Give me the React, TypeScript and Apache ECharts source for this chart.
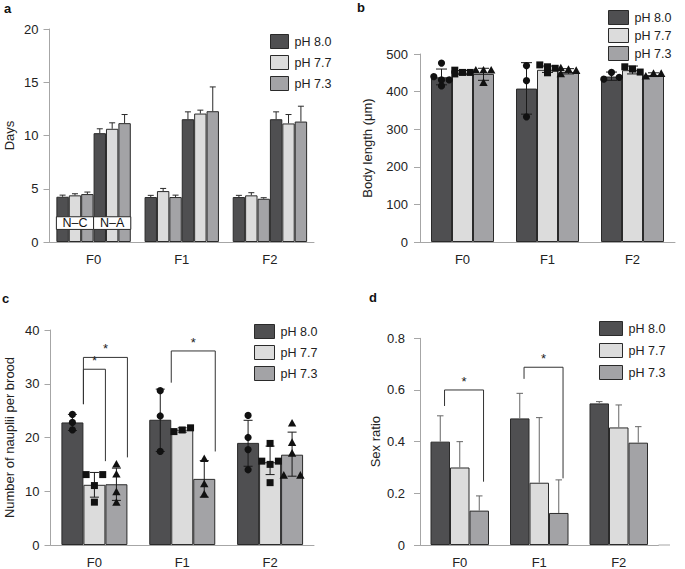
import React, { useEffect, useRef } from 'react';
import * as echarts from 'echarts';

// ---------- data ----------
const categories = ['F0', 'F1', 'F2'];
const phNames = ['pH 8.0', 'pH 7.7', 'pH 7.3'];
const devGroupLabels = ['N–C', 'N–A'];
const devGroupBox = [1.18, 2.37];

// panel a: development time (days), mean and upper error
const devNC80 = [4.25, 4.22, 4.22];
const devNC77 = [4.38, 4.78, 4.38];
const devNC73 = [4.5, 4.22, 4.06];
const devNA80 = [10.22, 11.53, 11.53];
const devNA77 = [10.63, 12.06, 11.13];
const devNA73 = [11.16, 12.28, 11.31];
const devNC80Hi = [4.4, 4.38, 4.38];
const devNC77Hi = [4.53, 5.03, 4.63];
const devNC73Hi = [4.69, 4.4, 4.16];
const devNA80Hi = [10.63, 12.22, 12.22];
const devNA77Hi = [11.19, 12.38, 11.97];
const devNA73Hi = [11.97, 14.56, 12.75];

// panel b: body length (µm)
const len80 = [438, 408, 440];
const len77 = [450, 458, 457];
const len73 = [447, 452, 444];
const len80Lo = [418, 340, 430];
const len80Hi = [460, 477, 452];
const len77Lo = [445, 451, 447];
const len77Hi = [456, 468, 468];
const len73Lo = [430, 447, 440];
const len73Hi = [462, 461, 450];
const len80Pts = [[476, 440, 431, 431, 415], [469, 429, 333], [451, 433, 438]];
const len77Pts = [[457, 451, 451, 447], [471, 466, 462, 450], [466, 460, 452]];
const len73Pts = [[456, 456, 456, 423], [462, 458, 455, 446], [440, 447, 447]];

// panel c: nauplii per brood
const nau80 = [22.8, 23.3, 19.0];
const nau77 = [11.2, 21.45, 15.4];
const nau73 = [11.3, 12.3, 16.8];
const nau80Lo = [21.3, 17.4, 14.65];
const nau80Hi = [24.3, 29.0, 23.2];
const nau77Lo = [8.9, 21.0, 13.1];
const nau77Hi = [13.5, 21.8, 18.4];
const nau73Lo = [8.3, 8.9, 12.8];
const nau73Hi = [14.3, 15.7, 21.0];
const nau80Pts = [[24.3, 22.8, 21.4], [28.7, 24.0, 17.4], [24.1, 20.0, 17.75, 14.0]];
const nau77Pts = [[11.06, 13.1, 13.1, 7.97], [21.1, 21.4, 21.8], [15.6, 15.0, 15.6, 18.9, 11.6]];
const nau73Pts = [[14.96, 13.1, 9.8, 7.85], [16.0, 11.3, 9.4], [22.6, 19.0, 17.0, 12.9, 12.9]];
// [category, fromBar, toBar, top, fromBottom, toBottom]
const nauBrackets = [
  [0, 0, 1, 32.7, 26.2, 15.6],
  [0, 0, 2, 34.9, 26.2, 16.3],
  [1, 0, 2, 36.1, 30.2, 17.4],
];

// panel d: sex ratio
const sex80 = [0.4, 0.49, 0.548];
const sex77 = [0.3, 0.241, 0.455];
const sex73 = [0.133, 0.124, 0.396];
const sex80Hi = [0.5, 0.587, 0.555];
const sex77Hi = [0.4, 0.493, 0.542];
const sex73Hi = [0.19, 0.252, 0.458];
const sexBrackets = [
  [0, 0, 2, 0.6, 0.538, 0.245],
  [1, 0, 2, 0.688, 0.643, 0.258],
];

// ---------- styles ----------
const FONT = 'Liberation Sans, Arial, Helvetica, sans-serif';
const COLORS = ['#4f4f51', '#dcdcdc', '#a3a3a6'];
const BORDER = '#2a2a2a';
const AXIS = '#a6a6a6';
const TEXT = '#222';

function barOffset(k: number, n: number, bw: number) {
  return (k - (n - 1) / 2) * bw;
}

function errorRender(n: number, bw: number, capW: number, color: string, twoSided: boolean) {
  return (params: any, api: any) => {
    const cat = api.value(0);
    const k = api.value(1);
    const cx = api.coord([cat, 0])[0] + barOffset(k, n, bw);
    const yLo = api.coord([cat, api.value(2)])[1];
    const yHi = api.coord([cat, api.value(3)])[1];
    const st = { stroke: color, lineWidth: 1 };
    const children: any[] = [
      { type: 'line', shape: { x1: cx, y1: yLo, x2: cx, y2: yHi }, style: st },
      { type: 'line', shape: { x1: cx - capW / 2, y1: yHi, x2: cx + capW / 2, y2: yHi }, style: st },
    ];
    if (twoSided) {
      children.push({ type: 'line', shape: { x1: cx - capW / 2, y1: yLo, x2: cx + capW / 2, y2: yLo }, style: st });
    }
    return { type: 'group', children };
  };
}

function pointRender(n: number, bw: number, spread: number) {
  return (params: any, api: any) => {
    const cat = api.value(0);
    const k = api.value(1);
    const slot = api.value(3);
    const x = api.coord([cat, 0])[0] + barOffset(k, n, bw) + slot * spread;
    const y = api.coord([cat, api.value(2)])[1];
    const st = { fill: '#111' };
    if (k === 0) return { type: 'circle', shape: { cx: x, cy: y, r: 3.6 }, style: st };
    if (k === 1) return { type: 'rect', shape: { x: x - 3.5, y: y - 3.5, width: 7, height: 7 }, style: st };
    return { type: 'polygon', shape: { points: [[x, y - 4.6], [x - 4.2, y + 3], [x + 4.2, y + 3]] }, style: st };
  };
}

function bracketRender(n: number, bw: number, frac: number) {
  return (params: any, api: any) => {
    const cat = api.value(0);
    const base = api.coord([cat, 0])[0];
    const x1 = base + barOffset(api.value(1), n, bw) + frac * bw;
    const x2 = base + barOffset(api.value(2), n, bw) + frac * bw;
    const yTop = api.coord([cat, api.value(3)])[1];
    const yA = api.coord([cat, api.value(4)])[1];
    const yB = api.coord([cat, api.value(5)])[1];
    return {
      type: 'group',
      children: [
        { type: 'polyline', shape: { points: [[x1, yA], [x1, yTop], [x2, yTop], [x2, yB]] }, style: { stroke: '#333', lineWidth: 1, fill: 'none' } },
        { type: 'text', x: (x1 + x2) / 2, y: yTop - 2, style: { text: '*', fontSize: 13, fontFamily: FONT, fill: '#222', align: 'center', verticalAlign: 'bottom' } },
      ],
    };
  };
}

// slot assignment: points whose values lie closer than tol are spread sideways
function slots(values: number[], tol: number): number[] {
  const idx = values.map((_, i) => i).sort((a, b) => values[b] - values[a]);
  const res = new Array(values.length).fill(0);
  let cluster: number[] = [];
  const flush = () => {
    const c = cluster.slice().sort((a, b) => a - b);
    if (c.length === 2) { res[c[0]] = -1; res[c[1]] = 1; }
    else if (c.length >= 3) c.forEach((ii, j) => { res[ii] = [-1, 0, 1][j % 3]; });
    cluster = [];
  };
  idx.forEach((i) => {
    if (cluster.length && values[cluster[cluster.length - 1]] - values[i] >= tol) flush();
    cluster.push(i);
  });
  flush();
  return res;
}

function pointData(groups: number[][][], tol: number) {
  const out: number[][] = [];
  groups.forEach((perBar, k) => {
    perBar.forEach((vals, cat) => {
      const s = slots(vals, tol);
      vals.forEach((v, i) => out.push([cat, k, v, s[i]]));
    });
  });
  return out;
}

function errData(means: number[][], lows: number[][] | null, highs: number[][]) {
  const out: number[][] = [];
  highs.forEach((hi, k) => {
    hi.forEach((h, cat) => out.push([cat, k, lows ? lows[k][cat] : means[k][cat], h]));
  });
  return out;
}

function axes(grid: number, max: number, interval: number, name: string, nameGap: number, labelMargin: number) {
  const x = {
    gridIndex: grid,
    type: 'category',
    data: categories,
    axisLine: { lineStyle: { color: AXIS, width: 1 } },
    axisTick: { alignWithLabel: true, length: 6, lineStyle: { color: AXIS } },
    axisLabel: { color: TEXT, fontSize: 13, fontFamily: FONT, margin: 11 },
  };
  const y = {
    gridIndex: grid,
    type: 'value',
    min: 0,
    max,
    interval,
    axisLine: { show: true, lineStyle: { color: AXIS, width: 1 } },
    axisTick: { show: true, length: 6, lineStyle: { color: AXIS } },
    splitLine: { show: false },
    axisLabel: { color: TEXT, fontSize: 13, fontFamily: FONT, margin: labelMargin },
    name,
    nameLocation: 'middle',
    nameGap,
    nameTextStyle: { color: TEXT, fontSize: 13, fontFamily: FONT },
  };
  return { x, y };
}

function legend(left: number, top: number, w: number, gap: number) {
  return {
    data: phNames,
    orient: 'vertical',
    left,
    top,
    itemWidth: w,
    itemHeight: 14,
    itemGap: gap,
    icon: 'rect',
    selectedMode: false,
    itemStyle: { borderColor: BORDER, borderWidth: 1 },
    textStyle: { color: TEXT, fontSize: 12.5, fontFamily: FONT, padding: [0, 0, 0, 1] },
  };
}

function barSeries(grid: number, name: string, data: number[], color: string, bw: number) {
  return {
    type: 'bar',
    name,
    xAxisIndex: grid,
    yAxisIndex: grid,
    data,
    barWidth: bw,
    barGap: '0%',
    z: 2,
    itemStyle: { color, borderColor: BORDER, borderWidth: 1 },
  };
}

function customSeries(grid: number, name: string, data: any[], renderItem: any, z: number, yDims: number[]) {
  return {
    type: 'custom',
    name,
    xAxisIndex: grid,
    yAxisIndex: grid,
    coordinateSystem: 'cartesian2d',
    data,
    renderItem,
    encode: { x: 0, y: yDims },
    z,
    silent: true,
  };
}

function buildOption() {
  const A = axes(0, 20, 5, 'Days', 34, 11);
  const B = axes(1, 500, 100, 'Body length (μm)', 46, 12);
  const C = axes(2, 40, 10, 'Number of nauplii per brood', 35, 11);
  const D = axes(3, 0.8, 0.2, 'Sex ratio', 38, 15);

  const aBW = 12.4, bBW = 21, cBW = 22, dBW = 19.5;

  const devMeans = [devNC80, devNC77, devNC73, devNA80, devNA77, devNA73];
  const devHis = [devNC80Hi, devNC77Hi, devNC73Hi, devNA80Hi, devNA77Hi, devNA73Hi];

  const series: any[] = [];
  devMeans.forEach((d, k) => series.push(barSeries(0, phNames[k % 3], d, COLORS[k % 3], aBW)));
  series.push(customSeries(0, 'errA', errData(devMeans, null, devHis), errorRender(6, aBW, 6, '#2a2a2a', false), 3, [2, 3]));
  series.push(customSeries(0, 'groupsA', devGroupLabels.map((_, g) => [0, g, devGroupBox[0], devGroupBox[1]]), (params: any, api: any) => {
    const cat = api.value(0);
    const g = api.value(1);
    const base = api.coord([cat, 0])[0];
    const left = base + (3 * g - 3) * aBW;
    const yLo = api.coord([cat, api.value(2)])[1];
    const yHi = api.coord([cat, api.value(3)])[1];
    return {
      type: 'group',
      children: [
        { type: 'rect', shape: { x: left, y: yHi, width: 3 * aBW, height: yLo - yHi }, style: { fill: '#fff', stroke: BORDER, lineWidth: 1 } },
        { type: 'text', x: left + 1.5 * aBW, y: (yLo + yHi) / 2, style: { text: devGroupLabels[params.dataIndex], fontSize: 12.5, fontFamily: FONT, fill: '#111', align: 'center', verticalAlign: 'middle' } },
      ],
    };
  }, 4, [2, 3]));

  const lenMeans = [len80, len77, len73];
  lenMeans.forEach((d, k) => series.push(barSeries(1, phNames[k], d, COLORS[k], bBW)));
  series.push(customSeries(1, 'errB', errData(lenMeans, [len80Lo, len77Lo, len73Lo], [len80Hi, len77Hi, len73Hi]), errorRender(3, bBW, 11, '#1a1a1a', true), 3, [2, 3]));
  series.push(customSeries(1, 'ptsB', pointData([len80Pts, len77Pts, len73Pts], 10), pointRender(3, bBW, 7.7), 4, [2]));

  const nauMeans = [nau80, nau77, nau73];
  nauMeans.forEach((d, k) => series.push(barSeries(2, phNames[k], d, COLORS[k], cBW)));
  series.push(customSeries(2, 'errC', errData(nauMeans, [nau80Lo, nau77Lo, nau73Lo], [nau80Hi, nau77Hi, nau73Hi]), errorRender(3, cBW, 9, '#1a1a1a', true), 3, [2, 3]));
  series.push(customSeries(2, 'ptsC', pointData([nau80Pts, nau77Pts, nau73Pts], 1.2), pointRender(3, cBW, 8.3), 4, [2]));
  series.push(customSeries(2, 'brC', nauBrackets, bracketRender(3, cBW, 0.5), 5, [3]));

  const sexMeans = [sex80, sex77, sex73];
  sexMeans.forEach((d, k) => series.push(barSeries(3, phNames[k], d, COLORS[k], dBW)));
  series.push(customSeries(3, 'errD', errData(sexMeans, null, [sex80Hi, sex77Hi, sex73Hi]), errorRender(3, dBW, 6.5, '#666', false), 3, [2, 3]));
  series.push(customSeries(3, 'brD', sexBrackets, bracketRender(3, dBW, 0.22), 5, [3]));

  const letter = (t: string, left: number, top: number) => ({
    type: 'text', left, top,
    style: { text: t, fontSize: 13, fontWeight: 'bold', fontFamily: FONT, fill: '#111' },
  });

  return {
    animation: false,
    backgroundColor: '#fff',
    textStyle: { fontFamily: FONT },
    grid: [
      { left: 49.5, top: 29, width: 264.5, height: 213 },
      { left: 420, top: 54, width: 255, height: 188 },
      { left: 50.5, top: 330, width: 263.5, height: 215.7 },
      { left: 420, top: 338.3, width: 238.5, height: 206.7 },
    ],
    xAxis: [A.x, B.x, C.x, D.x],
    yAxis: [A.y, B.y, C.y, D.y],
    legend: [
      legend(265, 29, 18, 6),
      legend(603, 5, 20, 3),
      legend(249, 319, 20, 6),
      legend(594, 316, 23, 7),
    ],
    series,
    graphic: [
      letter('a', 4, 2),
      letter('b', 357, 1),
      letter('c', 2, 292),
      letter('d', 369, 291),
      { type: 'line', shape: { x1: 658.5, y1: 545, x2: 670, y2: 545 }, style: { stroke: AXIS, lineWidth: 1 } },
    ],
  };
}

export default function App() {
  const ref = useRef<HTMLDivElement>(null);
  useEffect(() => {
    if (!ref.current) return;
    const chart = echarts.init(ref.current, undefined, { renderer: 'svg' });
    chart.setOption(buildOption() as any);
    return () => chart.dispose();
  }, []);
  return <div ref={ref} style={{ position: 'fixed', left: 0, top: 0, width: 685, height: 569, background: '#fff' }} />;
}
